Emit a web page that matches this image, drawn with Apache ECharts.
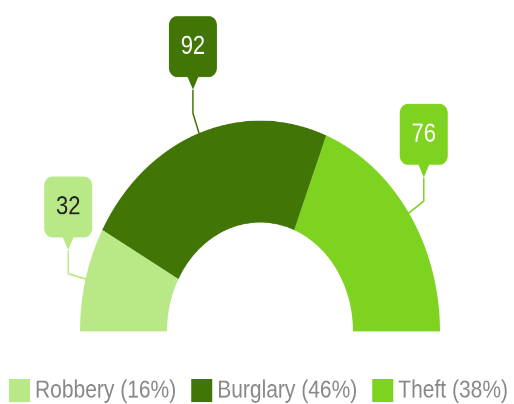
<!DOCTYPE html>
<html>
<head>
<meta charset="utf-8">
<title>Crimes</title>
<script src="https://cdn.jsdelivr.net/npm/echarts@6/dist/echarts.min.js"></script>
<style>
  html { overflow: hidden; }
  html, body { margin: 0; padding: 0; background: #fff; }
  body { height: 404px; }
  /* the reference is stretched vertically, so the chart is drawn squeezed and scaled back up */
  #chart { width: 514px; height: 345px; transform: scaleY(1.171); transform-origin: 0 0; }
</style>
</head>
<body>
<div id="chart"></div>
<script>
const categories = ['Robbery', 'Burglary', 'Theft'];
const values = [32, 92, 76];
const colors = ['#b8e986', '#417505', '#7ed321'];
const labelColors = ['#222222', '#ffffff', '#ffffff'];

const total = values.reduce((s, v) => s + v, 0);
const RISE = 20;    // vertical part of the leader
const POINTER = 11; // height of the callout pointer

// leader: out from the slice, then straight up to the callout
function leader(p) {
  const a = p.labelLinePoints[0], b = p.labelLinePoints[1];
  return [a, b, [b[0], b[1] - RISE]];
}

let myChart = echarts.init(document.getElementById('chart'), null, { devicePixelRatio: 2 });
myChart.setOption({
  animation: false,
  color: colors,
  textStyle: { fontFamily: 'Liberation Sans, Arial, sans-serif' },
  legend: {
    left: 9,
    top: 323,
    width: 505,
    padding: 0,
    icon: 'rect',
    itemWidth: 21,
    itemHeight: 20,
    itemGap: 15,
    textStyle: { color: '#888888', fontSize: 21 },
    formatter: function (name) {
      const v = values[categories.indexOf(name)];
      return name + ' (' + Math.round(v / total * 100) + '%)';
    },
    data: categories
  },
  series: [
    {
      // the slices + rounded value boxes
      type: 'pie',
      center: [260, 283],
      radius: [93, 180],
      startAngle: 180,
      endAngle: 0,
      avoidLabelOverlap: false,
      label: {
        show: true,
        position: 'outside',
        formatter: '{c}',
        fontSize: 22,
        lineHeight: 22,
        width: 48,
        align: 'center',
        padding: [15, 0, 15, 0],
        borderRadius: 8,
        overflow: 'none'
      },
      labelLine: { show: true, length: 18, length2: 0, lineStyle: { width: 1.5 } },
      labelLayout: function (p) {
        if (!p.labelLinePoints) return {};
        const pts = leader(p);
        return {
          x: pts[2][0], y: pts[2][1] - POINTER,
          align: 'center', verticalAlign: 'bottom',
          labelLinePoints: pts
        };
      },
      emphasis: { disabled: true },
      data: categories.map(function (name, i) {
        return {
          name: name, value: values[i],
          label: { backgroundColor: colors[i], color: labelColors[i] }
        };
      })
    },
    {
      // same slices, invisible, only to hang the pointer under each box
      type: 'pie',
      silent: true,
      center: [260, 283],
      radius: [93, 180],
      startAngle: 180,
      endAngle: 0,
      avoidLabelOverlap: false,
      itemStyle: { color: 'rgba(0,0,0,0)' },
      label: {
        show: true,
        position: 'outside',
        formatter: '▼',
        fontSize: 20,
        fontFamily: 'DejaVu Sans',
        overflow: 'none'
      },
      labelLine: { show: true, length: 18, length2: 0, lineStyle: { opacity: 0 } },
      labelLayout: function (p) {
        if (!p.labelLinePoints) return {};
        const pts = leader(p);
        return { x: pts[2][0], y: pts[2][1] - 8, align: 'center', verticalAlign: 'middle' };
      },
      emphasis: { disabled: true },
      data: categories.map(function (name, i) {
        return { name: name, value: values[i], label: { color: colors[i] } };
      })
    }
  ]
});
</script>
</body>
</html>
